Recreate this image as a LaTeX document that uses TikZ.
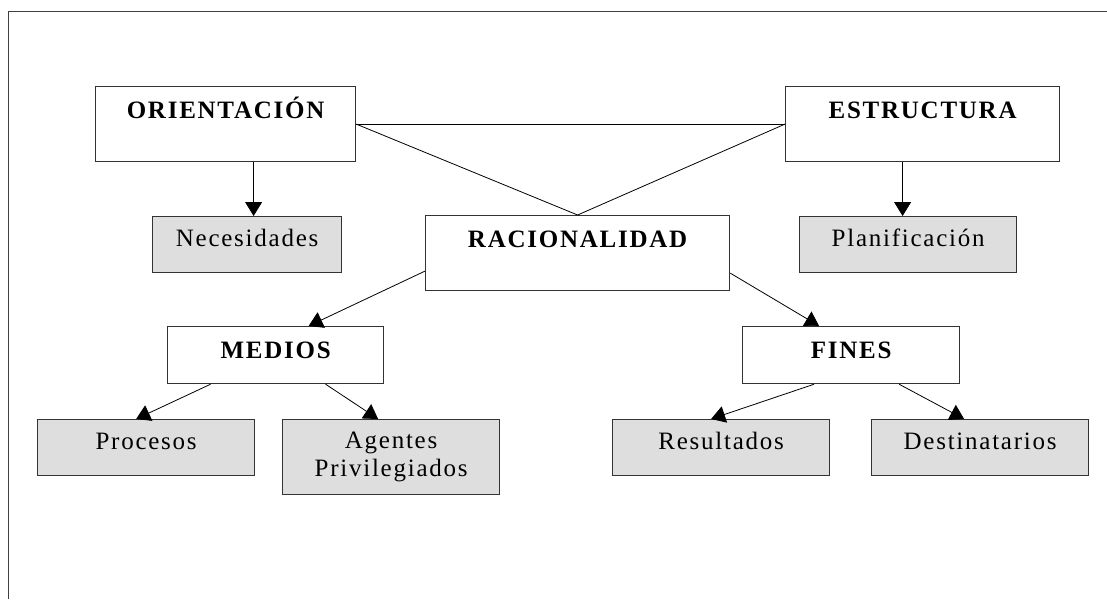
\documentclass[tikz,border=0pt]{standalone}
\usepackage{fontspec}
\setmainfont{Liberation Serif}
\usetikzlibrary{arrows.meta}

\begin{document}
\begin{tikzpicture}[x=1pt, y=-1pt,
        every node/.style = {shape=rectangle, draw=black!80, line width=1.2pt,
                             inner sep=0pt, anchor=north west, align=center},
        titulo/.style = {fill=white, text height=32pt,
                         font=\fontsize{25}{28}\selectfont\bfseries\addfontfeature{LetterSpace=7}},
        gris/.style = {fill=black!13, minimum width=217pt,
                       font=\fontsize{25}{28}\selectfont\addfontfeature{LetterSpace=7}},
        unalinea/.style = {text height=30pt, text depth=26pt},
        linea/.style = {draw=black, line width=0.8pt},
        flecha/.style = {linea, -{Triangle[length=14pt, width=17pt]}}]
    \useasboundingbox (0,0) rectangle (1107,599);
    % marco
    \draw[black!75, line width=1pt] (8,599) -- (8,12) -- (1107,12);

    \node[titulo, minimum width=260pt, text depth=43pt] (orient) at (95,86) {ORIENTACIÓN};
    \node[titulo, minimum width=274pt, text depth=43pt] (estruct) at (785,86) {ESTRUCTURA};
    \node[titulo, minimum width=304pt, text depth=43pt] (racional) at (425,215) {RACIONALIDAD};
    \node[titulo, minimum width=216pt, text depth=25pt] (medios) at (167,326) {MEDIOS};
    \node[titulo, minimum width=217pt, text depth=25pt] (fines) at (742,326) {FINES};

    \node[gris, unalinea, minimum width=189pt] (neces) at (152,216) {Necesidades};
    \node[gris, unalinea] (planif) at (799,216) {Planificación};
    \node[gris, unalinea] (proces) at (37,419) {Procesos};
    \node[gris, minimum height=75pt] (agentes) at (282,419) {Agentes\\Privilegiados};
    \node[gris, unalinea] (result) at (612,419) {Resultados};
    \node[gris, unalinea] (destin) at (871,419) {Destinatarios};

    \draw[linea] (orient.east) -- (estruct.west);
    \draw[linea] (orient.east) -- (racional.north);
    \draw[linea] (estruct.west) -- (racional.north);

    \draw[flecha] ([xshift=28pt]orient.south) -- ([xshift=28pt]orient.south |- neces.north);
    \draw[flecha] ([xshift=-20pt]estruct.south) -- ([xshift=-20pt]estruct.south |- planif.north);

    \draw[flecha] ([yshift=-18pt]racional.west) -- ([xshift=33pt]medios.north);
    \draw[flecha] ([yshift=-20pt]racional.east) -- ([xshift=-32pt]fines.north);

    \draw[flecha] ([xshift=-65pt]medios.south) -- ([xshift=-10pt]proces.north);
    \draw[flecha] ([xshift=50pt]medios.south) -- ([xshift=-13pt]agentes.north);
    \draw[flecha] ([xshift=-37pt]fines.south) -- ([xshift=-10pt]result.north);
    \draw[flecha] ([xshift=48pt]fines.south) -- ([xshift=-16pt]destin.north);
\end{tikzpicture}
\end{document}
